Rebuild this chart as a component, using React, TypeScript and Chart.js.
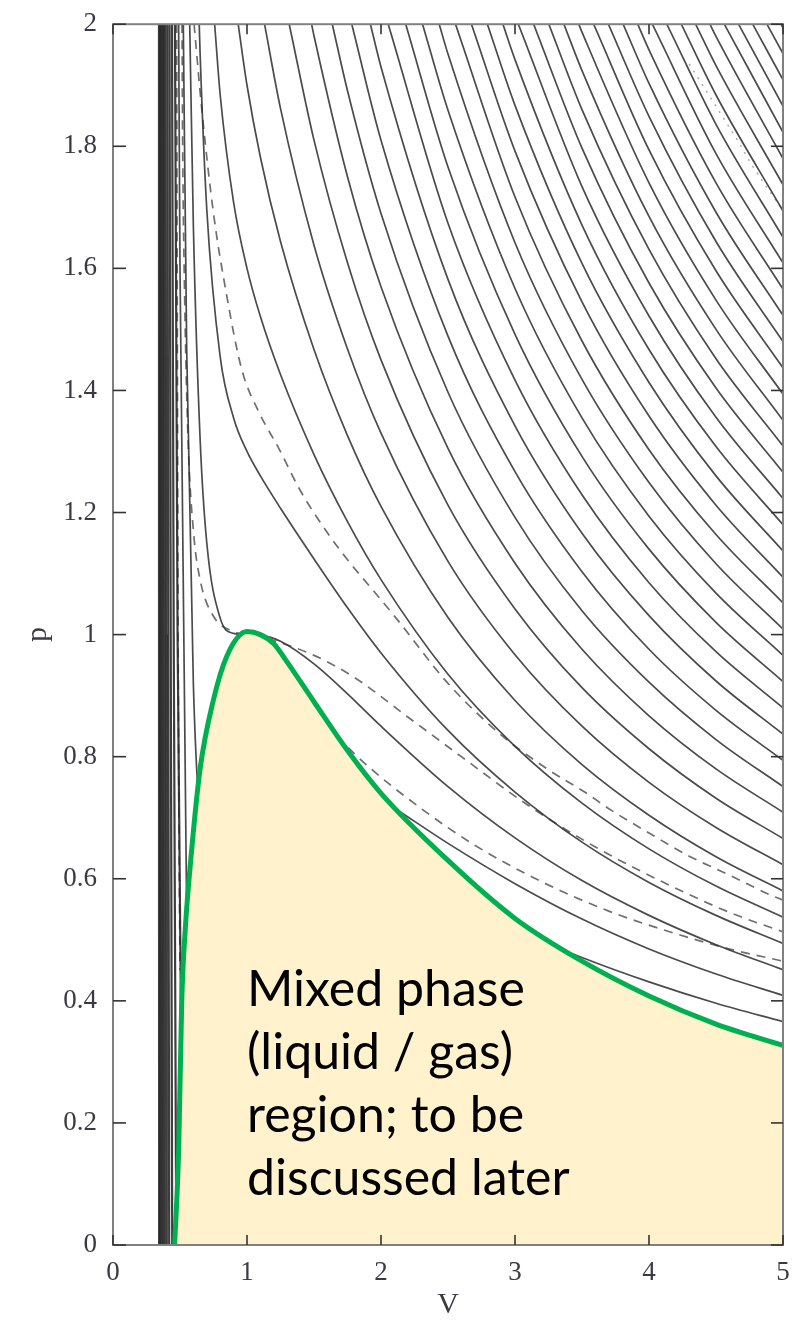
import React, { useEffect, useRef } from 'react';
import { Chart, registerables } from 'chart.js';

Chart.register(...registerables);

// ---------- axes ----------
const xTickValues = [0, 1, 2, 3, 4, 5];
const xTickLabels = ['0', '1', '2', '3', '4', '5'];
const yTickValues = [0, 0.2, 0.4, 0.6, 0.8, 1, 1.2, 1.4, 1.6, 1.8, 2];
const yTickLabels = ['0', '0.2', '0.4', '0.6', '0.8', '1', '1.2', '1.4', '1.6', '1.8', '2'];

// ---------- isotherms ----------
// shared volume grid; each row below gives p at the LAST n grid volumes
const vGrid = [0.5, 0.55, 0.6, 0.65, 0.7, 0.8, 0.9, 1.0, 1.1, 1.25, 1.5, 1.75, 2.0, 2.5, 3.0, 3.5, 4.0, 4.5, 5.0];
const isoTemps = [0.85, 0.925, 1.0, 1.075, 1.15, 1.225, 1.3, 1.375, 1.45, 1.525, 1.6, 1.675, 1.75, 1.825, 1.9, 1.975,
  2.05, 2.125, 2.2, 2.275, 2.35, 2.425, 2.5, 2.575, 2.65, 2.725, 2.8, 2.875, 2.95, 3.025, 3.1, 3.175, 3.25, 3.325,
  3.4, 3.475, 3.55, 3.625, 3.7];
// volume where each isotherm enters through the top edge (p = 2)
const isoTopV = [0.4898, 0.5247, 0.5726, 0.6435, 0.7586, 0.9342, 1.131, 1.315, 1.482, 1.6365, 1.782, 1.921, 2.054,
  2.1845, 2.31, 2.4346, 2.556, 2.675, 2.794, 2.91, 3.025, 3.139, 3.2525, 3.365, 3.476, 3.587, 3.697, 3.807, 3.916,
  4.025, 4.133, 4.241, 4.348, 4.455, 4.562, 4.668, 4.774, 4.88, 4.986];
const isoP: number[][] = [
  [1.6, 0.545, 0.167, 0.057, 0.059, 0.17, 0.296, 0.4, 0.477, 0.553, 0.609, 0.62, 0.61, 0.566, 0.517, 0.471, 0.431, 0.396, 0.366],
  [1.468, 0.917, 0.689, 0.605, 0.598, 0.649, 0.7, 0.738, 0.771, 0.781, 0.762, 0.73, 0.658, 0.592, 0.534, 0.485, 0.444, 0.409],
  [1.667, 1.321, 1.15, 1.027, 1.002, 1.0, 0.999, 0.989, 0.952, 0.903, 0.85, 0.751, 0.667, 0.597, 0.54, 0.492, 0.451],
  [1.952, 1.696, 1.455, 1.355, 1.3, 1.26, 1.207, 1.124, 1.044, 0.97, 0.843, 0.742, 0.66, 0.594, 0.54, 0.494],
  [1.884, 1.708, 1.6, 1.521, 1.426, 1.295, 1.185, 1.09, 0.935, 0.817, 0.724, 0.649, 0.588, 0.537],
  [1.9, 1.782, 1.644, 1.467, 1.326, 1.21, 1.028, 0.892, 0.787, 0.704, 0.636, 0.58],
  [1.862, 1.638, 1.468, 1.33, 1.12, 0.967, 0.85, 0.758, 0.684, 0.623],
  [1.81, 1.609, 1.45, 1.212, 1.042, 0.913, 0.813, 0.732, 0.666],
  [1.981, 1.75, 1.57, 1.305, 1.117, 0.976, 0.867, 0.78, 0.709],
  [1.891, 1.69, 1.397, 1.192, 1.039, 0.922, 0.828, 0.751],
  [1.81, 1.489, 1.267, 1.103, 0.976, 0.876, 0.794],
  [1.93, 1.582, 1.342, 1.166, 1.031, 0.924, 0.837],
  [1.674, 1.417, 1.229, 1.085, 0.972, 0.88],
  [1.766, 1.492, 1.292, 1.14, 1.02, 0.923],
  [1.859, 1.567, 1.355, 1.194, 1.068, 0.966],
  [1.951, 1.642, 1.418, 1.249, 1.116, 1.009],
  [1.717, 1.481, 1.303, 1.164, 1.052],
  [1.792, 1.545, 1.358, 1.212, 1.094],
  [1.867, 1.608, 1.413, 1.26, 1.137],
  [1.942, 1.671, 1.467, 1.308, 1.18],
  [1.734, 1.522, 1.356, 1.223],
  [1.797, 1.576, 1.404, 1.266],
  [1.86, 1.631, 1.452, 1.309],
  [1.924, 1.685, 1.5, 1.351],
  [1.987, 1.74, 1.548, 1.394],
  [1.794, 1.596, 1.437],
  [1.849, 1.644, 1.48],
  [1.903, 1.692, 1.523],
  [1.958, 1.74, 1.566],
  [1.788, 1.609],
  [1.836, 1.651],
  [1.884, 1.694],
  [1.932, 1.737],
  [1.98, 1.78],
  [1.823],
  [1.866],
  [1.909],
  [1.952],
  [1.994],
];

// liquid branches of the cold isotherms: V at p = 2, 1, 0
const liqTemps = [0.775, 0.7, 0.625, 0.55, 0.475, 0.4, 0.325, 0.25, 0.175, 0.1];
const liqV2 = [0.4622, 0.44, 0.4218, 0.4063, 0.3923, 0.3802, 0.3695, 0.3598, 0.3511, 0.3431];
const liqV1 = [0.4818, 0.4531, 0.4307, 0.4123, 0.3965, 0.3832, 0.3715, 0.3612, 0.3519, 0.3435];
const liqV0 = [0.5224, 0.4724, 0.4419, 0.4194, 0.4015, 0.3866, 0.3738, 0.3626, 0.3528, 0.344];
const liqP = [2, 1, 0];

// dashed curves
const dashAV = [0.605, 0.665, 0.75, 0.845, 0.96, 1.09, 1.24, 1.39, 1.59, 1.76, 1.97, 2.12, 2.5, 2.9, 3.24, 3.52, 3.72, 4.0, 4.3, 4.6, 4.9, 5.0];
const dashAP = [2.0, 1.855, 1.69, 1.56, 1.435, 1.364, 1.304, 1.239, 1.17, 1.12, 1.065, 1.025, 0.92, 0.835, 0.78, 0.742, 0.712, 0.675, 0.637, 0.606, 0.574, 0.565];
const dashBV = [0.515, 0.52, 0.535, 0.56, 0.6, 0.65, 0.75, 0.9, 1.0, 1.2, 1.5, 1.8, 2.2, 2.6, 3.1, 3.6, 4.1, 4.6, 5.0];
const dashBP = [2.0, 1.8, 1.55, 1.32, 1.17, 1.09, 1.03, 1.005, 1.0, 0.99, 0.966, 0.93, 0.865, 0.8, 0.72, 0.652, 0.595, 0.545, 0.513];
const dashCV = [1.5, 1.9, 2.3, 2.7, 3.2, 3.7, 4.2, 4.6, 5.0];
const dashCP = [0.87, 0.785, 0.715, 0.655, 0.595, 0.547, 0.51, 0.485, 0.465];
const dashLV = [0.475, 0.48, 0.486, 0.492, 0.5];
const dashLP = [2.0, 1.5, 1.0, 0.7, 0.45];
const dotV = [4.3, 4.4, 4.53, 4.66, 4.78, 4.92, 5.0];
const dotP = [1.935, 1.9, 1.855, 1.81, 1.765, 1.72, 1.695];

// mixed-phase boundary (green)
const greenV = [0.46, 0.49, 0.513, 0.54, 0.575, 0.65, 0.746, 0.85, 1.0, 1.1, 1.2, 1.3, 1.5, 1.75, 2.0, 2.5, 3.0, 3.5, 4.0, 4.5, 5.0];
const greenP = [0.0, 0.155, 0.4, 0.52, 0.618, 0.78, 0.89, 0.965, 1.005, 1.0, 0.985, 0.955, 0.89, 0.81, 0.74, 0.63, 0.535, 0.465, 0.408, 0.362, 0.327];

const noteLines = ['Mixed phase', '(liquid / gas)', 'region; to be', 'discussed later'];
const noteAnchorV = 1.0;
const noteAnchorP = 0.392;

const LINE = 'rgba(50,50,50,0.88)';
const DASH = 'rgba(95,95,95,0.9)';

export default function App() {
  const ref = useRef<HTMLCanvasElement>(null);

  useEffect(() => {
    const canvas = ref.current;
    if (!canvas) return;

    const pts = (xs: number[], ys: number[]) => xs.map((x, i) => ({ x, y: ys[i] }));
    const datasets: any[] = [];

    datasets.push({
      label: 'mixed phase',
      data: pts(greenV, greenP),
      borderColor: '#00B050',
      borderWidth: 5,
      backgroundColor: '#FFF2CC',
      fill: 'origin',
      cubicInterpolationMode: 'monotone',
      pointRadius: 0,
    });

    isoTopV.forEach((vt, i) => {
      const row = isoP[i];
      const start = vGrid.length - row.length;
      const data = [{ x: vt, y: 2 }, ...row.map((p, k) => ({ x: vGrid[start + k], y: p }))];
      datasets.push({
        label: 'T=' + isoTemps[i],
        data,
        borderColor: LINE,
        borderWidth: 1.7,
        cubicInterpolationMode: 'monotone',
        pointRadius: 0,
        fill: false,
      });
    });

    liqTemps.forEach((t, i) => {
      datasets.push({
        label: 'liquid T=' + t,
        data: pts([liqV2[i], liqV1[i], liqV0[i]], liqP),
        borderColor: 'rgba(40,40,40,0.9)',
        borderWidth: 2.2,
        tension: 0,
        pointRadius: 0,
        fill: false,
      });
    });

    const dashed = [
      [dashAV, dashAP],
      [dashBV, dashBP],
      [dashCV, dashCP],
      [dashLV, dashLP],
    ];
    dashed.forEach(([xs, ys], i) => {
      datasets.push({
        label: 'dashed ' + i,
        data: pts(xs, ys),
        borderColor: DASH,
        borderWidth: 1.7,
        borderDash: [9, 7],
        cubicInterpolationMode: 'monotone',
        pointRadius: 0,
        fill: false,
      });
    });

    datasets.push({
      label: 'dotted',
      data: pts(dotV, dotP),
      borderColor: 'rgba(150,150,150,0.8)',
      borderWidth: 1.5,
      borderDash: [2, 6],
      cubicInterpolationMode: 'monotone',
      pointRadius: 0,
      fill: false,
    });

    const framePlugin = {
      id: 'frameTicks',
      afterDatasetsDraw(chart: any) {
        const { ctx, chartArea, scales } = chart;
        const { left, right, top, bottom } = chartArea;
        ctx.save();
        ctx.strokeStyle = '#808080';
        ctx.lineWidth = 2;
        ctx.strokeRect(left, top, right - left, bottom - top);
        ctx.strokeStyle = '#333';
        ctx.lineWidth = 1.6;
        const seg = (x1: number, y1: number, x2: number, y2: number) => {
          ctx.beginPath();
          ctx.moveTo(x1, y1);
          ctx.lineTo(x2, y2);
          ctx.stroke();
        };
        yTickValues.forEach((v) => {
          const py = scales.y.getPixelForValue(v);
          seg(left, py, left + 13, py);
          seg(right, py, right - 12, py);
        });
        xTickValues.forEach((v) => {
          const px = scales.x.getPixelForValue(v);
          seg(px, bottom, px, bottom - 10);
          seg(px, top, px, top + 10);
        });
        // annotation
        const x0 = scales.x.getPixelForValue(noteAnchorV);
        const y0 = scales.y.getPixelForValue(noteAnchorP);
        ctx.fillStyle = '#000';
        ctx.font = '50px Lato, "Open Sans", sans-serif';
        ctx.textAlign = 'left';
        ctx.textBaseline = 'alphabetic';
        noteLines.forEach((s, i) => ctx.fillText(s, x0, y0 + i * 63));
        ctx.restore();
      },
    };

    const chart = new Chart(canvas, {
      type: 'line',
      data: { datasets },
      options: {
        animation: false,
        responsive: false,
        devicePixelRatio: 1,
        layout: { padding: { left: 0, top: 21, right: 12, bottom: 0 } },
        plugins: { legend: { display: false }, tooltip: { enabled: false } },
        scales: {
          x: {
            type: 'linear',
            min: 0,
            max: 5,
            grid: { display: false },
            border: { display: false },
            afterBuildTicks: (axis: any) => {
              axis.ticks = xTickValues.map((v) => ({ value: v }));
            },
            afterFit: (axis: any) => {
              axis.height = 80;
            },
            ticks: {
              padding: 4,
              color: '#3a3a44',
              font: { family: '"Liberation Serif", serif', size: 27 },
              maxRotation: 0,
              callback: (v: any) => xTickLabels[xTickValues.indexOf(Number(v))] ?? '',
            },
            title: {
              display: true,
              text: 'V',
              color: '#3a3a44',
              font: { family: '"Liberation Serif", serif', size: 30 },
              padding: { top: 0, bottom: 2 },
            },
          },
          y: {
            type: 'linear',
            min: 0,
            max: 2,
            grid: { display: false },
            border: { display: false },
            afterBuildTicks: (axis: any) => {
              axis.ticks = yTickValues.map((v) => ({ value: v }));
            },
            afterFit: (axis: any) => {
              axis.width = 113;
            },
            ticks: {
              padding: 8,
              color: '#3a3a44',
              font: { family: '"Liberation Serif", serif', size: 27 },
              callback: (v: any) => {
                const i = yTickValues.findIndex((t) => Math.abs(t - Number(v)) < 1e-6);
                return i >= 0 ? yTickLabels[i] : '';
              },
            },
            title: {
              display: true,
              text: 'p',
              color: '#3a3a44',
              font: { family: '"Liberation Serif", serif', size: 30 },
              padding: { top: 20, bottom: 0 },
            },
          },
        },
      },
      plugins: [framePlugin],
    });

    return () => chart.destroy();
  }, []);

  return (
    <div style={{ position: 'absolute', left: 0, top: 0, width: 795, height: 1325, background: '#fff' }}>
      <canvas ref={ref} width={795} height={1325} style={{ display: 'block' }} />
    </div>
  );
}
